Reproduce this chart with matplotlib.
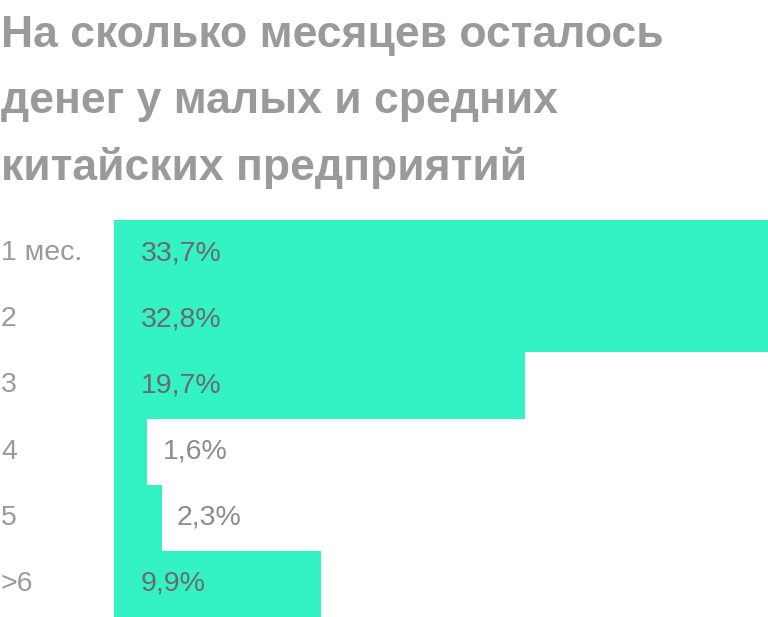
import matplotlib
matplotlib.use("Agg")
import matplotlib.pyplot as plt
from matplotlib.transforms import blended_transform_factory

categories = ["1 мес.", "2", "3", "4", "5", ">6"]
values = [33.7, 32.8, 19.7, 1.6, 2.3, 9.9]
value_labels = ["33,7%", "32,8%", "19,7%", "1,6%", "2,3%", "9,9%"]
title_lines = ["На сколько месяцев осталось", "денег у малых и средних", "китайских предприятий"]

W, H, DPI = 768, 617, 100
BAR_COLOR = "#33F3C5"
TITLE_COLOR = "#9a9a9a"
CAT_COLOR = "#9a9a9a"
IN_COLOR = "#6a6a6a"
OUT_COLOR = "#8c8c8c"
FONT = ["Liberation Sans", "DejaVu Sans"]

fig = plt.figure(figsize=(W / DPI, H / DPI), dpi=DPI)
# bars start at x=114px, axis runs past the right edge so the top bars get clipped
ax = fig.add_axes([114 / W, 0, 1 - 114 / W, (H - 220) / H])
px_per_unit = 20.88
ax.set_xlim(0, (W - 114) / px_per_unit)
ax.set_ylim(len(values) - 0.5, -0.5)
ax.barh(range(len(values)), values, height=1.0, color=BAR_COLOR, linewidth=0)
ax.axis("off")

for i, (v, lab) in enumerate(zip(values, value_labels)):
    if v > 5:
        ax.annotate(lab, (0, i), xytext=(27, 0), textcoords="offset pixels",
                    va="center", ha="left", fontsize=20.5, color=IN_COLOR, family=FONT)
    else:
        ax.annotate(lab, (v, i), xytext=(15, 0), textcoords="offset pixels",
                    va="center", ha="left", fontsize=20.5, color=OUT_COLOR, family=FONT)

trans = blended_transform_factory(fig.transFigure, ax.transData)
for i, c in enumerate(categories):
    ax.text(1 / W, i, c, transform=trans, va="center", ha="left",
            fontsize=20.5, color=CAT_COLOR, family=FONT, clip_on=False)

baselines = [47, 113.5, 180]
for line, b in zip(title_lines, baselines):
    fig.text(1 / W, 1 - b / H, line, va="baseline", ha="left", fontsize=32,
             fontweight="bold", color=TITLE_COLOR, family=FONT)

fig.savefig("out.png", dpi=DPI)
